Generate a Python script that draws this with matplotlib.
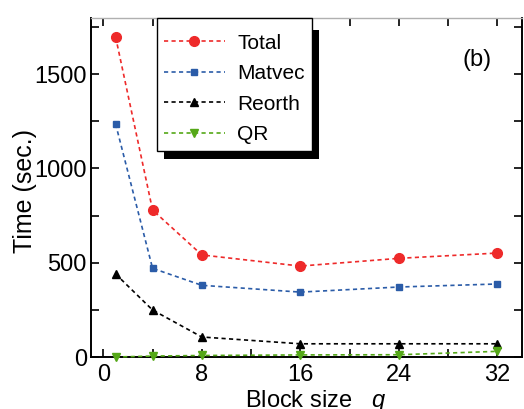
import matplotlib

matplotlib.use("Agg")

import matplotlib.pyplot as plt
from matplotlib.patches import Rectangle
from matplotlib.ticker import MultipleLocator


BLOCK_SIZES = [1, 4, 8, 16, 24, 32]
TOTAL = [1696, 779, 541, 482, 523, 551]
MATVEC = [1235, 470, 380, 344, 371, 387]
REORTH = [440, 249, 106, 70, 70, 70]
QR = [0, 5, 8, 11, 12, 30]

SERIES = [
    ("Total", TOTAL, "#ee2a2a", "o", 7.0),
    ("Matvec", MATVEC, "#2b5ca8", "s", 5.0),
    ("Reorth", REORTH, "#000000", "^", 5.5),
    ("QR", QR, "#55a818", "v", 5.5),
]

plt.rcParams["font.family"] = ["Liberation Sans", "DejaVu Sans"]
plt.rcParams["mathtext.fontset"] = "custom"
plt.rcParams["mathtext.it"] = "Liberation Sans:italic"
plt.rcParams["mathtext.rm"] = "Liberation Sans"


def main() -> None:
    fig = plt.figure(figsize=(5.24, 4.09), dpi=100)
    ax = fig.add_axes([91 / 524, 52 / 409, 431 / 524, 339 / 409])

    for label, values, color, marker, size in SERIES:
        ax.plot(
            BLOCK_SIZES,
            values,
            color=color,
            marker=marker,
            markersize=size,
            linestyle=(0, (2.5, 2)),
            linewidth=1.2,
            label=label,
            clip_on=False,
            zorder=3,
        )

    ax.set_xlim(-1, 34)
    ax.set_ylim(0, 1797)
    ax.xaxis.set_major_locator(MultipleLocator(8))
    ax.xaxis.set_minor_locator(MultipleLocator(4))
    ax.yaxis.set_major_locator(MultipleLocator(500))
    ax.yaxis.set_minor_locator(MultipleLocator(250))
    ax.tick_params(which="both", direction="in", top=True, right=True,
                   labelsize=17, width=1.2, length=6)
    ax.tick_params(axis="y", pad=3)
    ax.tick_params(axis="x", pad=5)

    for side in ["left", "bottom", "right"]:
        ax.spines[side].set_linewidth(1.4)
    ax.spines["top"].set_color("#b0b0b0")
    ax.spines["top"].set_linewidth(1.0)

    ax.set_ylabel("Time (sec.)", fontsize=18)
    ax.yaxis.set_label_coords(-0.125, 0.49)
    ax.set_xlabel("Block size   $q$", fontsize=17)
    ax.xaxis.set_label_coords(0.52, -0.092)

    ax.text(0.896, 0.875, "(b)", transform=ax.transAxes, fontsize=17,
            ha="center", va="center")

    legend = ax.legend(
        loc="upper left",
        bbox_to_anchor=(0.153, 0.975),
        fontsize=15,
        frameon=False,
        handlelength=2.9,
        handletextpad=0.6,
        labelspacing=0.55,
        borderpad=0.35,
        borderaxespad=0.0,
    )
    legend.set_zorder(6)

    # legend box runs up to the top edge of the axes, with a hard black shadow
    fig.canvas.draw()
    box = legend.get_window_extent()
    top = ax.get_window_extent().y1
    frame = Rectangle(
        (box.x0, box.y0),
        box.width,
        top - box.y0,
        transform=None,
        facecolor="white",
        edgecolor="black",
        linewidth=1.0,
        zorder=5.8,
        clip_on=False,
    )
    shadow = Rectangle(
        (box.x0 + 7, box.y0 - 8),
        box.width,
        top - box.y0 - 4,
        transform=None,
        facecolor="black",
        edgecolor="none",
        zorder=5.5,
        clip_on=False,
    )
    ax.add_artist(shadow)
    ax.add_artist(frame)

    fig.savefig("out.png", dpi=100)
    plt.close(fig)


if __name__ == "__main__":
    main()
